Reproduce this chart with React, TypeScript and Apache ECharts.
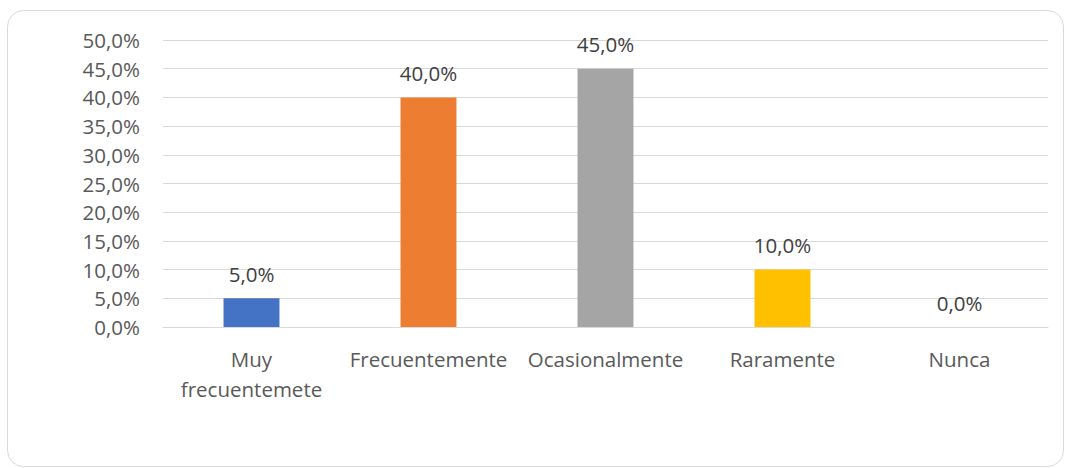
import React, { useEffect, useRef } from "react";
import * as echarts from "echarts";

const categories = ["Muy\nfrecuentemete", "Frecuentemente", "Ocasionalmente", "Raramente", "Nunca"];
const values = [5.0, 40.0, 45.0, 10.0, 0.0];
const colors = ["#4472C4", "#ED7D31", "#A5A5A5", "#FFC000", "#5B9BD5"];
const yMax = 50;
const yStep = 5;

const fmt = (v: number) => v.toFixed(1).replace(".", ",") + "%";
const FONT = "'Open Sans', 'Noto Sans', sans-serif";
const FS = 20.5;

export default function App() {
  const ref = useRef<HTMLDivElement>(null);
  useEffect(() => {
    if (!ref.current) return;
    const chart = echarts.init(ref.current, null, { renderer: "svg" });
    chart.setOption({
      animation: false,
      backgroundColor: "#ffffff",
      graphic: [
        {
          type: "rect",
          shape: { x: 7.5, y: 10.5, width: 1056, height: 456, r: 16 },
          style: { fill: "none", stroke: "#D9D9D9", lineWidth: 1 },
          silent: true,
        },
      ],
      grid: { left: 163, right: 17, top: 40, bottom: 141, containLabel: false },
      xAxis: {
        type: "category",
        data: categories,
        axisLine: { show: true, lineStyle: { color: "#D9D9D9", width: 1 } },
        axisTick: { show: false },
        axisLabel: {
          color: "#595959",
          fontSize: FS,
          fontFamily: FONT,
          margin: 17,
          lineHeight: 30,
          interval: 0,
        },
      },
      yAxis: {
        type: "value",
        min: 0,
        max: yMax,
        interval: yStep,
        axisLine: { show: false },
        axisTick: { show: false },
        splitLine: { lineStyle: { color: "#D9D9D9", width: 1 } },
        axisLabel: {
          color: "#595959",
          fontSize: FS,
          fontFamily: FONT,
          margin: 23,
          formatter: (v: number) => fmt(v),
        },
      },
      series: [
        {
          type: "bar",
          data: values.map((v, i) => ({ value: v, itemStyle: { color: colors[i] } })),
          barWidth: "31.6%",
          label: {
            show: true,
            position: "top",
            distance: 14,
            color: "#404040",
            fontSize: FS,
            fontFamily: FONT,
            formatter: (p: any) => fmt(p.value),
          },
        },
      ],
    });
    return () => chart.dispose();
  }, []);
  return (
    <div style={{ position: "absolute", left: 0, top: 0, width: 1065, height: 468 }}>
      <div ref={ref} style={{ width: 1065, height: 468 }} />
    </div>
  );
}
